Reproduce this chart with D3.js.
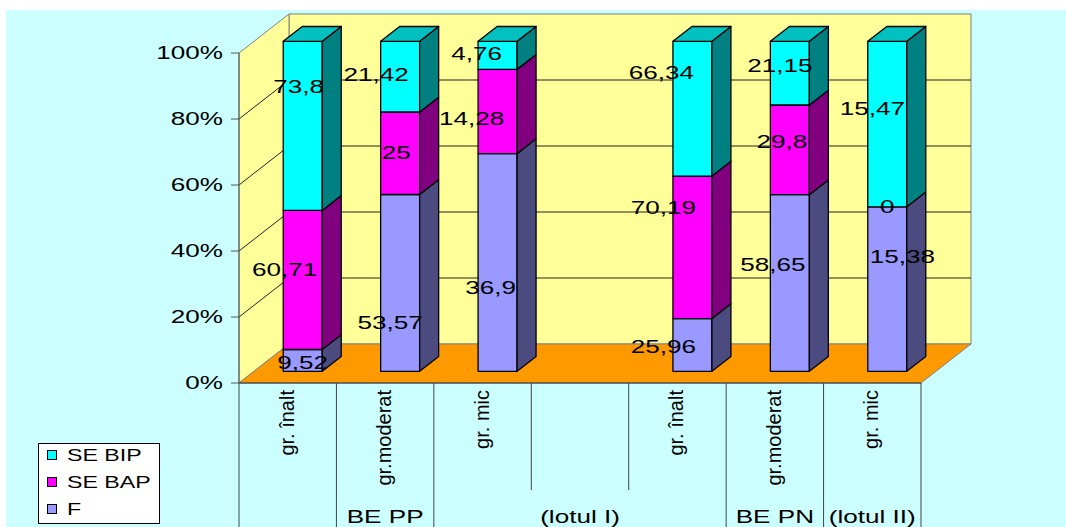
<!DOCTYPE html>
<html>
<head>
<meta charset="utf-8">
<script src="https://cdn.jsdelivr.net/npm/d3@7"></script>
<style>
  body { margin: 0; background: #fff; }
  text { font-family: Arial, "Liberation Sans", sans-serif; fill: #000; }
</style>
</head>
<body>
<svg id="chart" width="1066" height="527"></svg>
<script>
// data
var categories = ["gr. înalt", "gr.moderat", "gr. mic", "", "gr. înalt", "gr.moderat", "gr. mic"];
var groupLabels = ["", "BE PP", "(lotul I)", "BE PN", "(lotul II)"];
var groupSpans = [[0, 0], [1, 1], [2, 4], [5, 5], [6, 6]];
var seriesNames = ["F", "SE BAP", "SE BIP"];
var valF   = [9.52, 53.57, 36.9, null, 25.96, 58.65, 15.38];
var valBAP = [60.71, 25, 14.28, null, 70.19, 29.8, 0];
var valBIP = [73.8, 21.42, 4.76, null, 66.34, 21.15, 15.47];
var yTicks = [0, 0.2, 0.4, 0.6, 0.8, 1];

// label nudges (labels were dragged around in the original)
var labelShift = [
  [[0, 2], [-10, 40], [-7, 25], null, [-29, 2], [-17, -18], [15, -32]],
  [[-18, -10], [-4, -1], [-26, 7], null, [-29, -40], [-8, -8], [0, 0]],
  [[-4, -39], [-24, -2], [-21, -2], null, [-31, -36], [-10, -7], [-15, -15]]
];

var faceColors = ["#9999FF", "#FF00FF", "#00FFFF"];
var sideColors = ["#4B4B80", "#800080", "#008080"];
var topColors  = ["#7373C0", "#C000C0", "#00C0C0"];

var svg = d3.select("#chart");
var sx = 1.45; // the picture is stretched horizontally

var depth = { dx: 50, dy: -39 };
function P(x, y, z) { return [x + z * depth.dx, y + z * depth.dy]; }

var x = d3.scaleBand().domain(d3.range(categories.length)).range([239, 921]);
var y = d3.scaleLinear().domain([0, 1]).range([383, 53]);

function stretched(sel, px, py) {
  return sel.attr("transform", "translate(" + px + "," + py + ") scale(" + sx + ",1)");
}

// background
svg.append("rect").attr("width", 1066).attr("height", 527).attr("fill", "#fff");
svg.append("rect").attr("x", 6).attr("y", 10).attr("width", 1060).attr("height", 517).attr("fill", "#CCFFFF");

var x0 = x.range()[0], x1 = x.range()[1];
var poly = function (pts) { return pts.map(function (p) { return p.join(","); }).join(" "); };

// walls
svg.append("polygon")
  .attr("points", poly([P(x0, y(0), 1), P(x1, y(0), 1), P(x1, y(1), 1), P(x0, y(1), 1)]))
  .attr("fill", "#FFFF99").attr("stroke", "#808080");
svg.append("polygon")
  .attr("points", poly([P(x0, y(0), 0), P(x0, y(0), 1), P(x0, y(1), 1), P(x0, y(1), 0)]))
  .attr("fill", "#FFFF99").attr("stroke", "#808080");

// gridlines
yTicks.filter(function (t) { return t > 0 && t < 1; }).forEach(function (t) {
  var a = P(x0, y(t), 0), b = P(x0, y(t), 1), c = P(x1, y(t), 1);
  svg.append("polyline").attr("points", poly([a, b, c]))
    .attr("fill", "none").attr("stroke", "#222").attr("stroke-width", 1);
});

// floor
svg.append("polygon")
  .attr("points", poly([P(x0, y(0), 0), P(x1, y(0), 0), P(x1, y(0), 1), P(x0, y(0), 1)]))
  .attr("fill", "#FF9900").attr("stroke", "#808080");

// value axis
svg.append("line").attr("x1", x0).attr("x2", x0).attr("y1", y(1)).attr("y2", y(0))
  .attr("stroke", "#555");
yTicks.forEach(function (t) {
  svg.append("line").attr("x1", x0 - 8).attr("x2", x0).attr("y1", y(t)).attr("y2", y(t))
    .attr("stroke", "#555");
  stretched(svg.append("text"), 223, y(t))
    .attr("text-anchor", "end").attr("dy", "0.35em")
    .style("font-size", "18px")
    .text(d3.format(".0%")(t));
});

// category axis
svg.append("line").attr("x1", x0).attr("x2", x1).attr("y1", y(0)).attr("y2", y(0))
  .attr("stroke", "#333");
var groupEdges = groupSpans.map(function (s) { return s[0]; }).concat([categories.length]);
d3.range(categories.length + 1).forEach(function (k) {
  var bx = x0 + k * x.bandwidth();
  svg.append("line").attr("x1", bx).attr("x2", bx).attr("y1", y(0))
    .attr("y2", groupEdges.indexOf(k) >= 0 ? 527 : 490)
    .attr("stroke", "#444");
});
categories.forEach(function (c, i) {
  svg.append("text")
    .attr("transform", "translate(" + (x(i) + x.bandwidth() / 2 + 6) + ",390) rotate(-90)")
    .attr("text-anchor", "end")
    .style("font-size", "20px")
    .text(c);
});
groupLabels.forEach(function (g, j) {
  var s = groupSpans[j];
  var cx = (x(s[0]) + x(s[1]) + x.bandwidth()) / 2;
  stretched(svg.append("text"), cx, 523)
    .attr("text-anchor", "middle")
    .style("font-size", "18px")
    .text(g);
});

// bars
var series = [valF, valBAP, valBIP];
var z0 = 0.3, z1 = 0.68, hw = 19.5;
var labels = [];
categories.forEach(function (c, i) {
  if (valF[i] == null) return;
  var total = valF[i] + valBAP[i] + valBIP[i];
  var cx = x(i) + x.bandwidth() / 2;
  var g = svg.append("g");
  var acc = 0;
  series.forEach(function (s, k) {
    var v0 = acc / total, v1 = (acc + s[i]) / total;
    acc += s[i];
    var mid = (y(v0) + y(v1)) / 2;
    var fc = P(cx, mid, z0);
    labels.push({ text: String(s[i]).replace(".", ","), x: fc[0] + labelShift[k][i][0], y: fc[1] + labelShift[k][i][1] });
    if (s[i] === 0) return;
    g.append("polygon")
      .attr("points", poly([P(cx - hw, y(v0), z0), P(cx + hw, y(v0), z0), P(cx + hw, y(v1), z0), P(cx - hw, y(v1), z0)]))
      .attr("fill", faceColors[k]).attr("stroke", "#000").attr("stroke-width", 1.3).attr("stroke-linejoin", "round");
    g.append("polygon")
      .attr("points", poly([P(cx + hw, y(v0), z0), P(cx + hw, y(v0), z1), P(cx + hw, y(v1), z1), P(cx + hw, y(v1), z0)]))
      .attr("fill", sideColors[k]).attr("stroke", "#000").attr("stroke-width", 1.3).attr("stroke-linejoin", "round");
  });
  g.append("polygon")
    .attr("points", poly([P(cx - hw, y(1), z0), P(cx + hw, y(1), z0), P(cx + hw, y(1), z1), P(cx - hw, y(1), z1)]))
    .attr("fill", topColors[2]).attr("stroke", "#000").attr("stroke-width", 1.3).attr("stroke-linejoin", "round");
});

// data labels
labels.forEach(function (l) {
  stretched(svg.append("text"), l.x, l.y)
    .attr("text-anchor", "middle").attr("dy", "0.35em")
    .style("font-size", "18px")
    .text(l.text);
});

// legend
var legend = svg.append("g");
legend.append("rect").attr("x", 38.5).attr("y", 443.5).attr("width", 121).attr("height", 80)
  .attr("fill", "#fff").attr("stroke", "#000");
[2, 1, 0].forEach(function (k, j) {
  var ly = 455 + j * 27;
  legend.append("rect").attr("x", 47.5).attr("y", ly - 4.5).attr("width", 9).attr("height", 9)
    .attr("fill", faceColors[k]).attr("stroke", "#000");
  stretched(legend.append("text"), 67, ly)
    .attr("dy", "0.35em").style("font-size", "16px")
    .text(seriesNames[k]);
});
</script>
</body>
</html>
